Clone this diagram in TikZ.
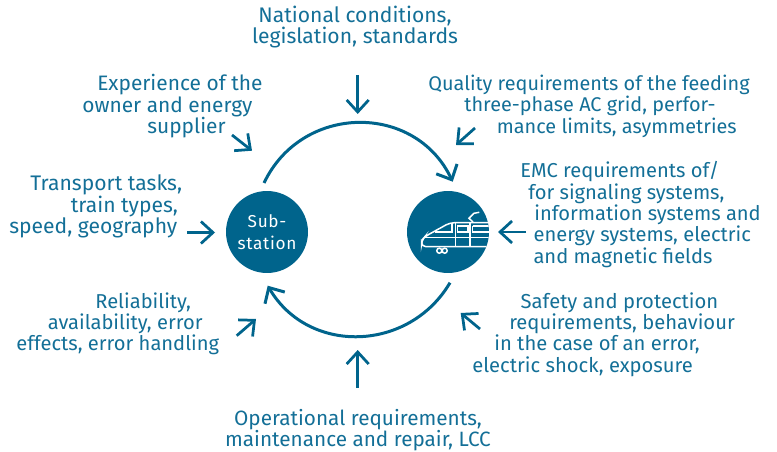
\documentclass[tikz,border=0pt]{standalone}
\usepackage{fontspec}
\setmainfont{Fira Sans}
\usetikzlibrary{arrows.meta}
\definecolor{railblue}{HTML}{00648C}
\definecolor{labelblue}{HTML}{136F97}
\tikzset{
  lab/.style={text=labelblue,font=\fontsize{#1}{12.2}\selectfont,anchor=north west,align=left},
  lab/.default=11.5,
  hub/.style={circle,fill=railblue,minimum size=1.64cm,text=white,align=center,font=\fontsize{9.8}{12.4}\selectfont\addfontfeatures{LetterSpace=4}},
  feed/.style={draw=railblue,line width=0.055cm,-{Straight Barb[length=0.24cm,width=0.44cm,line width=0.055cm]}},
  loopline/.style={draw=railblue,line width=0.06cm,-{Straight Barb[length=0.24cm,width=0.46cm,line width=0.06cm]}},
  trainline/.style={draw=white,line width=0.03cm}
}
\newcommand{\ind}[1]{\hspace*{#1pt}}
\begin{document}
\begin{tikzpicture}[x=0.02cm,y=0.02cm]
\tikzstyle{every node}+=[inner sep=0pt]
\useasboundingbox (0,0) rectangle (777,-452);
% hubs
\node [hub] (sub) at (267,-232) {\raisebox{-1.1pt}{Sub-}\\\raisebox{-1.1pt}{station}};
\node [hub] (train) at (448,-232) {};
% train icon
\begin{scope}
\clip (448,-232) circle (41);
\draw [trainline,rounded corners=2.5] (491,-222.7) -- (450,-222.7) -- (425,-236.5) -- (421.5,-240.5) -- (421.5,-246.7) -- (491,-246.7);
\draw [trainline] (425,-237.3) -- (491,-237.3);
\draw [trainline] (435,-232) -- (452,-232) -- (452,-222.7);
\draw [trainline] (455.7,-222.7) -- (455.7,-246.7);
\draw [trainline] (470,-222.7) -- (470,-246.7);
\draw [trainline] (457.5,-226) rectangle (468,-232);
\draw [trainline] (472.7,-226) -- (491,-226) (472.7,-226) -- (472.7,-232) -- (491,-232);
\draw [trainline] (439.3,-250.7) circle (2.5) (444.7,-250.7) circle (2.5);
\draw [trainline] (473,-222) -- (469,-218.3) -- (474,-213.3) -- (479.3,-212.3);
\end{scope}
% labels
\node [lab=12,align=center,anchor=north] (national) at (355,-5.5) {National conditions,\\legislation, standards};
\node [lab=11.9] (experience) at (82,-74) {\ind{8.5}Experience of the\\owner and energy\\\ind{37}supplier};
\node [lab=11.3] (quality) at (428,-74.5) {Quality requirements of the feeding\\\ind{20.5}three-phase AC grid, perfor-\\\ind{39}mance limits, asymmetries};
\node [lab=12] (transport) at (9,-174.5) {\ind{12}Transport tasks,\\\ind{35}train types,\\speed, geography};
\node [lab=11.45] (emc) at (520,-161) {EMC requirements of/\\\ind{4.5}for signaling systems,\\\ind{8}information systems and\\\ind{7.5}energy systems, electric\\\ind{7.5}and magnetic fields};
\node [lab=11.45] (reliability) at (16,-292) {\ind{45}Reliability,\\\ind{18}availability, error\\effects, error handling};
\node [lab=11.5] (safety) at (472,-292) {\ind{27.5}Safety and protection\\\ind{21}requirements, behaviour\\\ind{12.5}in the case of an error,\\electric shock, exposure};
\node [lab=11.8,align=center,anchor=north] (operational) at (358,-409) {Operational requirements,\\maintenance and repair, LCC};
% main loop
\coordinate (topstart) at (264,-183);
\coordinate (topend) at (452.7,-181.7);
\coordinate (botstart) at (450,-282.7);
\coordinate (botend) at (267.7,-285.7);
\draw [loopline] (topstart) to [out=64.6,in=115.4,looseness=1.19] (topend);
\draw [loopline] (botstart) to [out=239.5,in=300.5,looseness=1.13] (botend);
% influences
\coordinate (a1) at (357.7,-75);   \coordinate (b1) at (357.7,-114);
\coordinate (a2) at (232,-135);    \coordinate (b2) at (252,-150.7);
\coordinate (a3) at (475,-128);    \coordinate (b3) at (456,-145);
\coordinate (a4) at (187,-232.5);  \coordinate (b4) at (215,-232.5);
\coordinate (a5) at (526,-232);    \coordinate (b5) at (498,-232);
\coordinate (a6) at (236.7,-335.7);\coordinate (b6) at (256,-319);
\coordinate (a7) at (480,-329);    \coordinate (b7) at (460.7,-313);
\coordinate (a8) at (357.7,-388);  \coordinate (b8) at (357.7,-350);
\foreach \i in {1,...,8}
  \draw [feed] (a\i) -- (b\i);
\end{tikzpicture}
\end{document}
